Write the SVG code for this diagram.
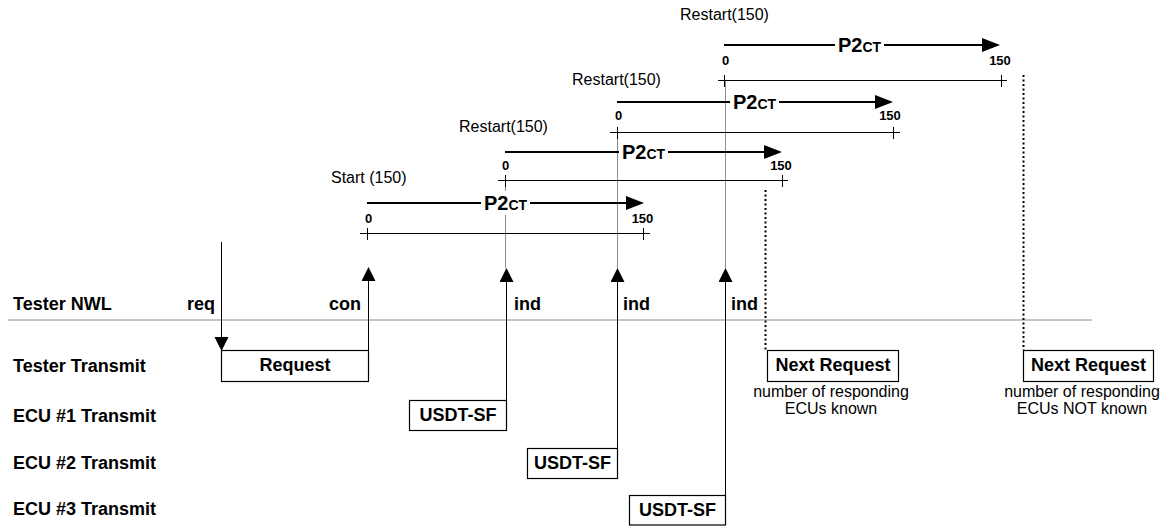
<svg xmlns="http://www.w3.org/2000/svg" width="1172" height="526" viewBox="0 0 1172 526">
<style>
.lbl{font-family:"Liberation Sans",Arial,sans-serif;font-weight:bold;font-size:18px;fill:#000}
.reg{font-family:"Liberation Sans",Arial,sans-serif;font-size:16px;fill:#000}
.num{font-family:"Liberation Sans",Arial,sans-serif;font-weight:bold;font-size:13px;fill:#000;text-anchor:middle}
.p2{font-family:"Liberation Sans",Arial,sans-serif;font-weight:bold;fill:#000;text-anchor:middle}
.box{fill:#fff;stroke:#000;stroke-width:1.2}
.thin{stroke:#000;stroke-width:1;fill:none}
.thick{stroke:#000;stroke-width:2.2;fill:none;marker-end:url(#bigArrow)}
.guide{stroke:#8c8c8c;stroke-width:1;fill:none}
.sig{stroke:#000;stroke-width:1;fill:none;marker-end:url(#smallArrow)}
.dot{stroke:#000;stroke-width:2;stroke-dasharray:2 2.5;fill:none}
.mid{text-anchor:middle}
</style>
<defs>
<marker id="bigArrow" markerUnits="userSpaceOnUse" markerWidth="19" markerHeight="15" refX="0" refY="7" orient="auto">
<path d="M0,0 L18,7 L0,14 Z" fill="#000"/>
</marker>
<marker id="smallArrow" markerUnits="userSpaceOnUse" markerWidth="15" markerHeight="15" refX="0" refY="7" orient="auto">
<path d="M0,0 L14,7 L0,14 Z" fill="#000"/>
</marker>
</defs>
<rect width="1172" height="526" fill="#fff"/>

<g id="separator">
<line x1="8" y1="320" x2="1092" y2="320" class="guide"/>
</g>

<g id="row-labels">
<text class="lbl" x="13" y="310">Tester NWL</text>
<text class="lbl" x="13" y="372">Tester Transmit</text>
<text class="lbl" x="13" y="422">ECU #1 Transmit</text>
<text class="lbl" x="13" y="469">ECU #2 Transmit</text>
<text class="lbl" x="13" y="515">ECU #3 Transmit</text>
</g>

<g id="guides">
<line x1="505.5" y1="180" x2="505.5" y2="268" class="guide"/>
<line x1="617.5" y1="132" x2="617.5" y2="268" class="guide"/>
<line x1="725.5" y1="80" x2="725.5" y2="268" class="guide"/>
</g>

<g id="timer1">
<text class="reg" x="331" y="183">Start (150)</text>
<line x1="367" y1="203" x2="626" y2="203" class="thick"/>
<rect x="481" y="191" width="49" height="24" fill="#fff"/>
<text class="p2" x="505.5" y="210"><tspan font-size="20">P2</tspan><tspan font-size="14">CT</tspan></text>
<text class="num" x="368.5" y="223">0</text>
<text class="num" x="642.5" y="223">150</text>
<line x1="360" y1="233.5" x2="650" y2="233.5" class="thin"/>
<line x1="367.5" y1="228" x2="367.5" y2="240" class="thin"/>
<line x1="643.5" y1="228" x2="643.5" y2="240" class="thin"/>
</g>

<g id="timer2">
<text class="reg" x="459" y="132">Restart(150)</text>
<line x1="505" y1="152" x2="764" y2="152" class="thick"/>
<rect x="619" y="140" width="49" height="24" fill="#fff"/>
<text class="p2" x="643.5" y="159"><tspan font-size="20">P2</tspan><tspan font-size="14">CT</tspan></text>
<text class="num" x="505.5" y="170">0</text>
<text class="num" x="781" y="170">150</text>
<line x1="498" y1="180.5" x2="788" y2="180.5" class="thin"/>
<line x1="505.5" y1="175" x2="505.5" y2="187" class="thin"/>
<line x1="782.5" y1="175" x2="782.5" y2="187" class="thin"/>
</g>

<g id="timer3">
<text class="reg" x="572" y="85">Restart(150)</text>
<line x1="617" y1="102" x2="875" y2="102" class="thick"/>
<rect x="730" y="90" width="49" height="24" fill="#fff"/>
<text class="p2" x="754.5" y="109"><tspan font-size="20">P2</tspan><tspan font-size="14">CT</tspan></text>
<text class="num" x="618.5" y="120">0</text>
<text class="num" x="890" y="120">150</text>
<line x1="610" y1="132.5" x2="900" y2="132.5" class="thin"/>
<line x1="617.5" y1="127" x2="617.5" y2="139" class="thin"/>
<line x1="893.5" y1="127" x2="893.5" y2="139" class="thin"/>
</g>

<g id="timer4">
<text class="reg" x="680" y="20">Restart(150)</text>
<line x1="724" y1="45" x2="982" y2="45" class="thick"/>
<rect x="835" y="33" width="49" height="24" fill="#fff"/>
<text class="p2" x="859.5" y="52"><tspan font-size="20">P2</tspan><tspan font-size="14">CT</tspan></text>
<text class="num" x="725.5" y="65">0</text>
<text class="num" x="1000" y="65">150</text>
<line x1="718" y1="80.5" x2="1007" y2="80.5" class="thin"/>
<line x1="724.5" y1="75" x2="724.5" y2="87" class="thin"/>
<line x1="1001.5" y1="75" x2="1001.5" y2="87" class="thin"/>
</g>

<g id="primitive-labels">
<text class="lbl" x="215" y="310" text-anchor="end">req</text>
<text class="lbl" x="361" y="310" text-anchor="end">con</text>
<text class="lbl" x="514" y="310">ind</text>
<text class="lbl" x="623" y="310">ind</text>
<text class="lbl" x="731" y="310">ind</text>
</g>

<g id="connectors">
<line x1="221.5" y1="242" x2="221.5" y2="337" class="sig"/>
<line x1="368.5" y1="350" x2="368.5" y2="281" class="sig"/>
<line x1="506.5" y1="400" x2="506.5" y2="282" class="sig"/>
<line x1="617.5" y1="448" x2="617.5" y2="282" class="sig"/>
<line x1="725.5" y1="495" x2="725.5" y2="282" class="sig"/>
<line x1="765.5" y1="190" x2="765.5" y2="350" class="dot"/>
<line x1="1023.5" y1="75" x2="1023.5" y2="350" class="dot"/>
</g>

<g id="request">
<rect class="box" x="221.5" y="350.5" width="147" height="31"/>
<text class="lbl mid" x="295" y="371">Request</text>
</g>

<g id="ecu1-usdt">
<rect class="box" x="409.5" y="400.5" width="97" height="30"/>
<text class="lbl mid" x="458" y="421">USDT-SF</text>
</g>

<g id="ecu2-usdt">
<rect class="box" x="527.5" y="448.5" width="90" height="30"/>
<text class="lbl mid" x="572.5" y="469">USDT-SF</text>
</g>

<g id="ecu3-usdt">
<rect class="box" x="629.5" y="495.5" width="96" height="29.5"/>
<text class="lbl mid" x="677.5" y="516">USDT-SF</text>
</g>

<g id="next-request-1">
<rect class="box" x="767.5" y="350.5" width="131" height="31"/>
<text class="lbl mid" x="833" y="371">Next Request</text>
<text class="reg mid" x="831" y="397">number of responding</text>
<text class="reg mid" x="831" y="414">ECUs known</text>
</g>

<g id="next-request-2">
<rect class="box" x="1023.5" y="350.5" width="130" height="31"/>
<text class="lbl mid" x="1088.5" y="371">Next Request</text>
<text class="reg mid" x="1082" y="397">number of responding</text>
<text class="reg mid" x="1082" y="414">ECUs NOT known</text>
</g>
</svg>
